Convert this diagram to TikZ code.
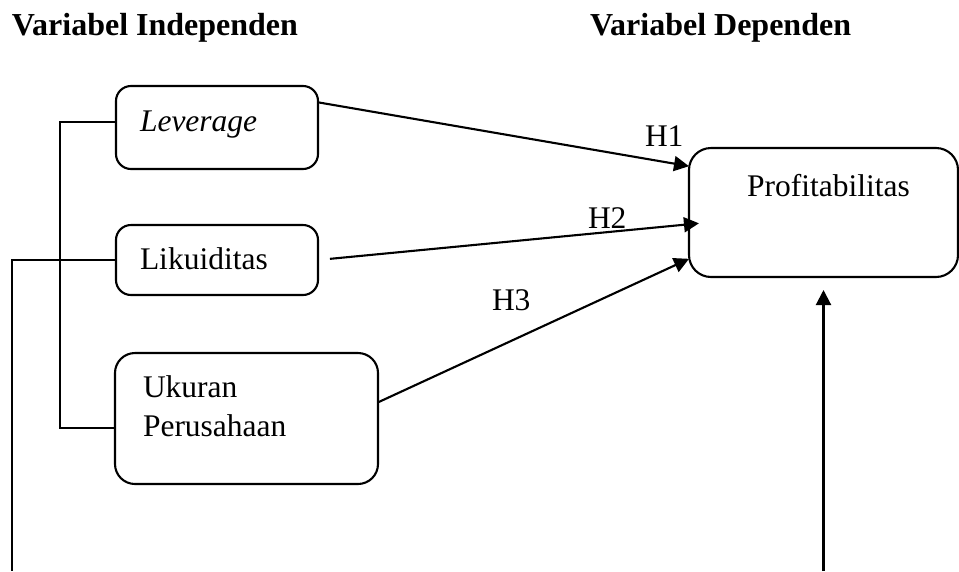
\documentclass[tikz,border=0pt]{standalone}
\usepackage{fontspec}
\setmainfont{Liberation Serif}
\usetikzlibrary{arrows.meta}
\begin{document}
\begin{tikzpicture}[x=1pt,y=-1pt,
  every node/.style={font=\fontsize{31.5}{40}\selectfont, inner sep=0pt, outer sep=0pt},
  vbox/.style={draw, line width=2.1pt, rounded corners=15pt},
  lbl/.style={anchor=base west},
  conn/.style={line width=2.1pt},
  arr/.style={line width=2.1pt, -{Triangle[length=15pt,width=15pt]}}]
\useasboundingbox (0,0) rectangle (959,571);
% titles
\node[lbl, font=\fontsize{32}{40}\selectfont\bfseries] (t1) at (12,35) {Variabel Independen};
\node[lbl, font=\fontsize{32}{40}\selectfont\bfseries] (t2) at (590,35) {Variabel Dependen};
% boxes
\node[vbox, minimum width=202pt, minimum height=83pt] (lev) at (217,127.5) {};
\node[vbox, minimum width=202pt, minimum height=70pt] (lik) at (217,260) {};
\node[vbox, rounded corners=20pt, minimum width=263pt, minimum height=131pt] (uk) at (246.5,418.5) {};
\node[vbox, rounded corners=22pt, minimum width=269pt, minimum height=129pt] (prof) at (823.5,212.5) {};
% box texts
\node[lbl] (levt) at (140,131.5) {\textit{Leverage}};
\node[lbl] (likt) at (140,269) {Likuiditas};
\node[lbl] (ukt1) at (143,397) {Ukuran};
\node[lbl] (ukt2) at (143,436) {Perusahaan};
\node[lbl] (proft) at (747,196) {Profitabilitas};
% hypothesis labels
\node[lbl] (h1) at (645,146) {H1};
\node[lbl] (h2) at (588,228) {H2};
\node[lbl] (h3) at (492,310) {H3};
% arrows
\draw[arr] (lev.14) -- (prof.161.7);
\draw[arr, shorten <=12pt, shorten >=-10pt] (lik.east) -- (prof.185.7);
\draw[arr] (uk.7.15) -- (prof.199.45);
\coordinate (vb) at (823.5,571);
\draw[arr, shorten >=13pt] (vb) -- (prof.south);
% brackets
\draw[conn] ([yshift=5.5pt]lev.west) -- ++(-56,0) |- ([yshift=-9.5pt]uk.west);
\coordinate (lb) at (12,571);
\draw[conn] (lik.west) -| (lb);
\end{tikzpicture}
\end{document}
